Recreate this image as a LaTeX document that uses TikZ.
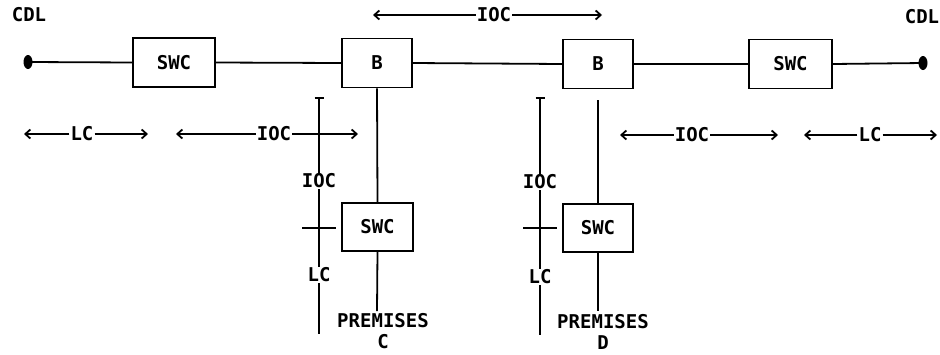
\documentclass[tikz,border=0pt]{standalone}
\usepackage{fontspec}
\newfontfamily\lblfont{DejaVu Sans Mono}
\usetikzlibrary{arrows.meta}
\begin{document}
\begin{tikzpicture}[x=1pt,y=-1pt,
  every node/.style={font=\lblfont\bfseries\fontsize{19}{22}\selectfont},
  boxn/.style={draw,line width=1.8pt,minimum height=49pt,inner sep=0pt},
  lbl/.style={inner sep=1pt},
  wire/.style={line width=1.8pt},
  thin/.style={line width=1.5pt},
  arr/.style={line width=1.4pt,-{Straight Barb[length=5pt,width=9pt,line width=1.8pt]}},
  tee/.style={line width=1.5pt,{Bar[width=9pt,line width=1.8pt]}-}]
\useasboundingbox (0,0) rectangle (940,354);
% top labels
\node[lbl] (cdlL) at (29,15) {CDL};
\node[lbl] (cdlR) at (922,17) {CDL};
% main line
\coordinate (dotL) at (28,62);
\coordinate (dotR) at (923,63);
\node[boxn,minimum width=82pt] (swc1) at (174,62.5) {SWC};
\node[boxn,minimum width=70pt] (b1) at (377,63) {B};
\node[boxn,minimum width=70pt] (b2) at (598,64) {B};
\node[boxn,minimum width=83pt] (swc2) at (790.5,64) {SWC};
\fill (dotL) ellipse [x radius=4.5, y radius=7];
\fill (dotR) ellipse [x radius=4.5, y radius=7];
\draw[wire] (dotL) -- (swc1.west);
\draw[wire] (swc1.east) -- (b1.west);
\draw[wire] (b1.east) -- (b2.west);
\draw[wire] (b2.east) -- (swc2.west);
\draw[wire] (swc2.east) -- (dotR);
% top IOC arrow
\node[lbl] (iocT) at (494,15) {IOC};
\coordinate (iocTL) at (373,15);
\coordinate (iocTR) at (602,15);
\draw[arr] (iocT) -- (iocTL);
\draw[arr] (iocT) -- (iocTR);
% arrow row
\node[lbl] (lc1) at (82,134) {LC};
\coordinate (lc1L) at (24,134);
\coordinate (lc1R) at (148,134);
\draw[arr] (lc1) -- (lc1L);
\draw[arr] (lc1) -- (lc1R);
\node[lbl] (ioc1) at (274,134) {IOC};
\coordinate (ioc1L) at (176,134);
\coordinate (ioc1R) at (358,134);
\draw[arr] (ioc1) -- (ioc1L);
\draw[arr] (ioc1) -- (ioc1R);
\node[lbl] (ioc2) at (692,135) {IOC};
\coordinate (ioc2L) at (620,135);
\coordinate (ioc2R) at (778,135);
\draw[arr] (ioc2) -- (ioc2L);
\draw[arr] (ioc2) -- (ioc2R);
\node[lbl] (lc2) at (870,135) {LC};
\coordinate (lc2L) at (804,135);
\coordinate (lc2R) at (937,135);
\draw[arr] (lc2) -- (lc2L);
\draw[arr] (lc2) -- (lc2R);
% lower switching centres
\node[boxn,minimum width=71pt,minimum height=48pt] (swc3) at (377.5,227) {SWC};
\node[boxn,minimum width=70pt,minimum height=48pt] (swc4) at (598,228) {SWC};
\draw[wire] (b1.south) -- (swc3.north);
\draw[wire] ([yshift=-11pt]b2.south) -- (swc4.north);
\node[lbl,align=center,font=\lblfont\bfseries\fontsize{19}{21}\selectfont] (premC) at (383,331) {PREMISES\\C};
\node[lbl,align=center,font=\lblfont\bfseries\fontsize{19}{21}\selectfont] (premD) at (603,332) {PREMISES\\D};
\coordinate (swc3end) at (377,311);
\coordinate (swc4end) at (598,311);
\draw[wire] (swc3.south) -- (swc3end);
\draw[wire] (swc4.south) -- (swc4end);
% left vertical IOC/LC measure
\coordinate (vLtop) at (319,97);
\node[lbl] (vLioc) at (319,181) {IOC};
\node[lbl] (vLlc) at (319,275) {LC};
\coordinate (vLbot) at (319,334);
\draw[tee] (vLtop) -- (vLioc);
\draw[thin] (vLioc) -- (vLlc);
\draw[thin] (vLlc) -- (vLbot);
\coordinate (tkL1) at (302,228);
\coordinate (tkL2) at (336,228);
\draw[thin] (tkL1) -- (tkL2);
% right vertical IOC/LC measure
\coordinate (vRtop) at (540,97);
\node[lbl] (vRioc) at (540,182) {IOC};
\node[lbl] (vRlc) at (540,277) {LC};
\coordinate (vRbot) at (540,335);
\draw[tee] (vRtop) -- (vRioc);
\draw[thin] (vRioc) -- (vRlc);
\draw[thin] (vRlc) -- (vRbot);
\coordinate (tkR1) at (523,228);
\coordinate (tkR2) at (557,228);
\draw[thin] (tkR1) -- (tkR2);
\end{tikzpicture}
\end{document}
